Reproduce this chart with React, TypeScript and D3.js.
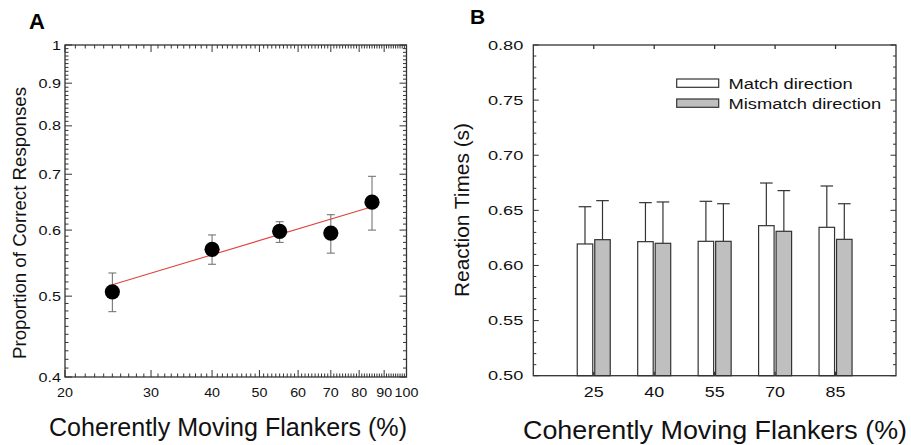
import React from 'react';
import * as d3 from 'd3';

// --- Data: panel A (proportion correct vs coherence, log-log) ---
const coherenceA = [25, 40, 55, 70, 85];
const propCorrect = [0.506, 0.569, 0.598, 0.595, 0.648];
const propUpper = [0.533, 0.592, 0.614, 0.626, 0.696];
const propLower = [0.479, 0.546, 0.580, 0.563, 0.600];
const fitX = [25, 85];
const fitY = [0.516, 0.640];
const xTickLabelsA = [20, 30, 40, 50, 60, 70, 80, 90, 100];
const yTickLabelsA = [0.4, 0.5, 0.6, 0.7, 0.8, 0.9, 1];

// --- Data: panel B (reaction times) ---
const categoriesB = [25, 40, 55, 70, 85];
const matchRT = [0.6195, 0.6216, 0.6219, 0.6361, 0.6346];
const matchTop = [0.6533, 0.6570, 0.6582, 0.6748, 0.6721];
const mismatchRT = [0.6234, 0.6201, 0.6219, 0.6310, 0.6237];
const mismatchTop = [0.6588, 0.6576, 0.6560, 0.6679, 0.6560];
const yTickLabelsB = [0.5, 0.55, 0.6, 0.65, 0.7, 0.75, 0.8];
const seriesNames = ['Match direction', 'Mismatch direction'];
const seriesFill = ['#ffffff', '#bfbfbf'];

const FONT = 'Arial, "Liberation Sans", Helvetica, sans-serif';
const INK = '#333';

// text with a horizontal stretch (the tick fonts in the figure are wide)
const WideText: React.FC<{ x: number; y: number; sx?: number; size: number; anchor?: string; dy?: string; children: React.ReactNode }> =
    ({ x, y, sx = 1, size, anchor = 'middle', dy, children }) => (
        <text transform={`translate(${x},${y}) scale(${sx},1)`} fontSize={size} textAnchor={anchor} dy={dy} fill="#111" fontFamily={FONT}>
            {children}
        </text>
    );

// --- Panel A ---
const PanelA: React.FC = () => {
    const L = 65, R = 406.5, T = 45, B = 377;
    const x = d3.scaleLog().domain([20, 100]).range([L, R]);
    const y = d3.scaleLog().domain([0.4, 1]).range([B, T]);

    const xMinor = d3.range(20, 101);
    const yMinor = d3.range(40, 101).map(v => v / 100);
    const isMajorX = (v: number) => xTickLabelsA.includes(v);
    const isMajorY = (v: number) => yTickLabelsA.some(t => Math.abs(t - v) < 1e-9);

    const fitLine = d3.line<number>().x((d, i) => x(fitX[i])).y(d => y(d));

    return (
        <g>
            <text x={29} y={29} fontSize={22} fontWeight="bold" fontFamily={FONT}>A</text>
            <rect x={L} y={T} width={R - L} height={B - T} fill="none" stroke={INK} strokeWidth={1.3} />
            {xMinor.map(v => {
                const len = isMajorX(v) ? 7 : 3.5;
                return (
                    <g key={`xa${v}`} stroke={INK} strokeWidth={1}>
                        <line x1={x(v)} x2={x(v)} y1={B} y2={B - len} />
                        <line x1={x(v)} x2={x(v)} y1={T} y2={T + len} />
                    </g>
                );
            })}
            {yMinor.map(v => {
                const len = isMajorY(v) ? 7 : 3.5;
                return (
                    <g key={`ya${v}`} stroke={INK} strokeWidth={1}>
                        <line x1={L} x2={L + len} y1={y(v)} y2={y(v)} />
                        <line x1={R} x2={R - len} y1={y(v)} y2={y(v)} />
                    </g>
                );
            })}
            {xTickLabelsA.map(v => (
                <WideText key={`xl${v}`} x={x(v)} y={397} size={13} sx={1.1}>{v}</WideText>
            ))}
            {yTickLabelsA.map(v => (
                <WideText key={`yl${v}`} x={61} y={y(v)} size={12} sx={1.35} anchor="end" dy="0.38em">{v}</WideText>
            ))}

            <path d={fitLine(fitY) || ''} fill="none" stroke="#e0433f" strokeWidth={1.1} />
            {coherenceA.map((c, i) => (
                <g key={`pa${c}`} stroke="#6a6a6a" strokeWidth={1}>
                    <line x1={x(c)} x2={x(c)} y1={y(propUpper[i])} y2={y(propLower[i])} />
                    <line x1={x(c) - 4} x2={x(c) + 4} y1={y(propUpper[i])} y2={y(propUpper[i])} />
                    <line x1={x(c) - 4} x2={x(c) + 4} y1={y(propLower[i])} y2={y(propLower[i])} />
                    <circle cx={x(c)} cy={y(propCorrect[i])} r={7.6} fill="#000" stroke="none" />
                </g>
            ))}

            <text transform="translate(26,223) rotate(-90)" fontSize={17.5} textAnchor="middle" fontFamily={FONT}
                textLength={272} lengthAdjust="spacingAndGlyphs" fill="#111">
                Proportion of Correct Responses
            </text>
            <text x={228} y={436} fontSize={25} textAnchor="middle" fontFamily={FONT}
                textLength={358} lengthAdjust="spacingAndGlyphs" fill="#111">
                Coherently Moving Flankers (%)
            </text>
        </g>
    );
};

// --- Panel B ---
const PanelB: React.FC = () => {
    const L = 533.3, R = 896, T = 45, B = 375.7;
    const x = d3.scaleLinear().domain([10, 100]).range([L, R]);
    const y = d3.scaleLinear().domain([0.5, 0.8]).range([B, T]);
    const barW = 15.5, gap = 1, cap = 6.3;

    const yMinor = d3.range(50, 81).map(v => v / 100);
    const series = [
        { name: seriesNames[0], mean: matchRT, top: matchTop, fill: seriesFill[0], off: -gap - barW },
        { name: seriesNames[1], mean: mismatchRT, top: mismatchTop, fill: seriesFill[1], off: gap },
    ];

    return (
        <g>
            <text x={470} y={23.5} fontSize={21} fontWeight="bold" fontFamily={FONT}>B</text>

            {series.map(s => categoriesB.map((c, i) => {
                const bx = x(c) + s.off;
                const cx = bx + barW / 2;
                return (
                    <g key={`${s.name}${c}`} stroke={INK} strokeWidth={1.2}>
                        <line x1={cx} x2={cx} y1={y(s.mean[i])} y2={y(s.top[i])} />
                        <line x1={cx - cap} x2={cx + cap} y1={y(s.top[i])} y2={y(s.top[i])} />
                        <rect x={bx} y={y(s.mean[i])} width={barW} height={B - y(s.mean[i])} fill={s.fill} />
                    </g>
                );
            }))}

            <rect x={L} y={T} width={R - L} height={B - T} fill="none" stroke={INK} strokeWidth={1.3} />
            {yMinor.map((v, i) => {
                const len = i % 5 === 0 ? 5.5 : 3;
                return (
                    <g key={`yb${v}`} stroke={INK} strokeWidth={1}>
                        <line x1={L} x2={L + len} y1={y(v)} y2={y(v)} />
                        <line x1={R} x2={R - len} y1={y(v)} y2={y(v)} />
                    </g>
                );
            })}
            {categoriesB.map(c => (
                <g key={`xb${c}`} stroke={INK} strokeWidth={1.3}>
                    <line x1={x(c)} x2={x(c)} y1={T} y2={T + 4} />
                    <line x1={x(c)} x2={x(c)} y1={B} y2={B - 4} />
                </g>
            ))}
            {categoriesB.map(c => (
                <WideText key={`xbl${c}`} x={x(c)} y={397} size={14} sx={1.28}>{c}</WideText>
            ))}
            {yTickLabelsB.map(v => (
                <WideText key={`ybl${v}`} x={523.3} y={y(v)} size={13} sx={1.4} anchor="end" dy="0.36em">{v.toFixed(2)}</WideText>
            ))}

            {/* legend */}
            {series.map((s, i) => (
                <g key={`lg${s.name}`}>
                    <rect x={676.7} y={79 + i * 20} width={42} height={8.3} fill={s.fill} stroke={INK} strokeWidth={1.2} />
                    <WideText x={728.5} y={88.5 + i * 20} size={14} sx={1.31} anchor="start">{s.name}</WideText>
                </g>
            ))}

            <text transform="translate(469,210) rotate(-90)" fontSize={21} textAnchor="middle" fontFamily={FONT}
                textLength={174} lengthAdjust="spacingAndGlyphs" fill="#111">
                Reaction Times (s)
            </text>
            <text x={715} y={439} fontSize={25} textAnchor="middle" fontFamily={FONT}
                textLength={384} lengthAdjust="spacingAndGlyphs" fill="#111">
                Coherently Moving Flankers (%)
            </text>
        </g>
    );
};

export default function App() {
    return (
        <svg width={911} height={445} style={{ position: 'absolute', left: 0, top: 0, background: '#fff' }}>
            <PanelA />
            <PanelB />
        </svg>
    );
}
